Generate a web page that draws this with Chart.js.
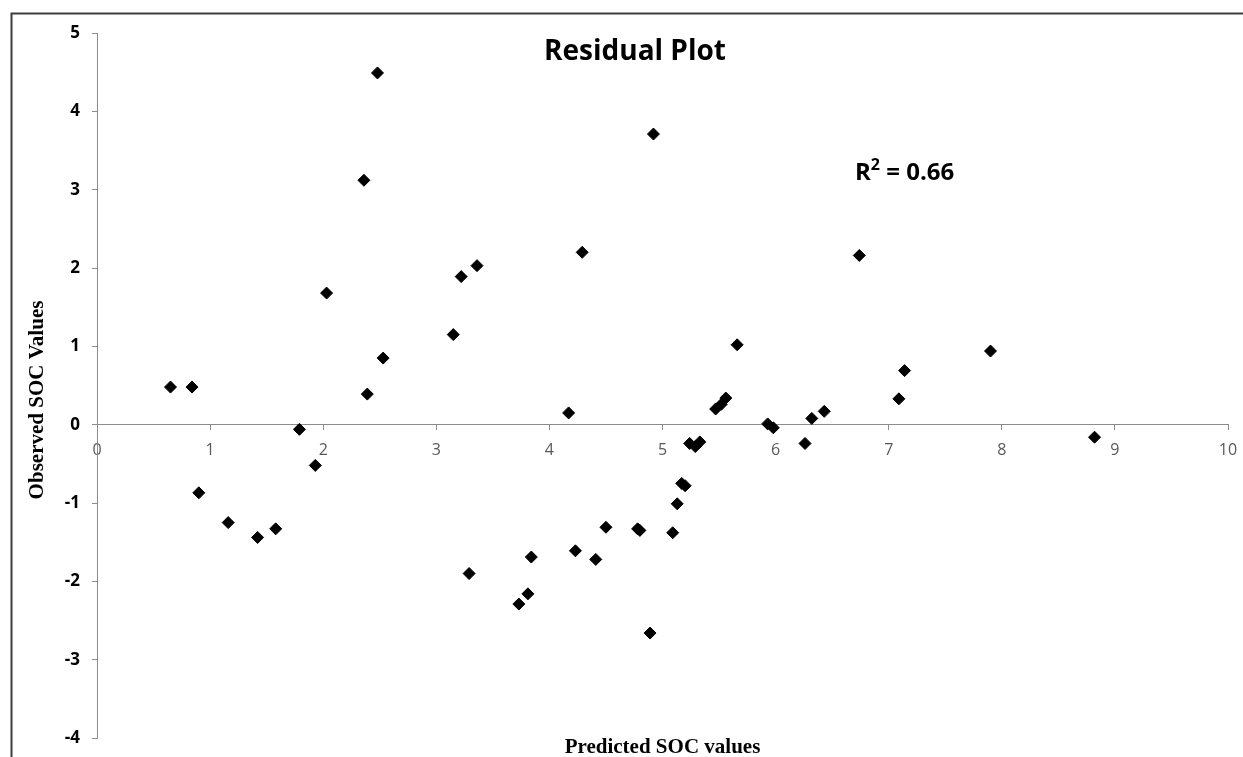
<!DOCTYPE html>
<html>
<head>
<meta charset="utf-8">
<script src="https://cdn.jsdelivr.net/npm/chart.js@4"></script>
<style>
  html, body { margin: 0; padding: 0; background: #ffffff; }
  #wrap { width: 1243px; height: 757px; position: relative; }
</style>
</head>
<body>
<div id="wrap"><canvas id="c" width="1243" height="757"></canvas></div>
<script>
// ---- data ----
const predicted = [0.65, 0.84, 0.90, 1.16, 1.42, 1.58, 1.79, 1.93, 2.03, 2.36,
                   2.39, 2.48, 2.53, 3.15, 3.22, 3.29, 3.36, 3.73, 3.81, 3.84,
                   4.17, 4.23, 4.29, 4.41, 4.50, 4.78, 4.80, 4.89, 4.92, 5.09,
                   5.13, 5.17, 5.20, 5.24, 5.29, 5.33, 5.47, 5.52, 5.56, 5.66,
                   5.93, 5.98, 6.26, 6.32, 6.43, 6.74, 7.09, 7.14, 7.90, 8.82];
const residuals = [0.48, 0.48, -0.87, -1.25, -1.44, -1.33, -0.06, -0.52, 1.68, 3.12,
                   0.39, 4.49, 0.85, 1.15, 1.89, -1.90, 2.03, -2.29, -2.16, -1.69,
                   0.15, -1.61, 2.20, -1.72, -1.31, -1.33, -1.35, -2.66, 3.71, -1.38,
                   -1.01, -0.75, -0.78, -0.24, -0.28, -0.22, 0.20, 0.26, 0.34, 1.02,
                   0.01, -0.04, -0.24, 0.08, 0.17, 2.16, 0.33, 0.69, 0.94, -0.16];
const xTicks = [0, 1, 2, 3, 4, 5, 6, 7, 8, 9, 10];
const yTicks = [-4, -3, -2, -1, 0, 1, 2, 3, 4, 5];
const chartTitle = "Residual Plot";
const xTitle = "Predicted SOC values";
const yTitle = "Observed SOC Values";
const r2Label = ["R", "2", " = 0.66"];

const points = predicted.map((x, i) => ({ x: x, y: residuals[i] }));

const decorPlugin = {
  id: 'decor',
  afterDraw(chart) {
    const ctx = chart.ctx;
    ctx.save();
    // outer chart frame (top and left edges visible)
    ctx.strokeStyle = '#3c3c3c';
    ctx.lineWidth = 2;
    ctx.beginPath();
    ctx.moveTo(1243, 13.5);
    ctx.lineTo(11.5, 13.5);
    ctx.lineTo(11.5, 757);
    ctx.stroke();

    // title
    ctx.fillStyle = '#000000';
    ctx.font = 'bold 28px "Open Sans"';
    ctx.textAlign = 'center';
    ctx.textBaseline = 'alphabetic';
    ctx.fillText(chartTitle, 635, 60);

    // R^2 annotation
    ctx.textAlign = 'left';
    let x = 855;
    ctx.font = 'bold 24px "Open Sans"';
    ctx.fillText(r2Label[0], x, 180);
    x += ctx.measureText(r2Label[0]).width;
    ctx.font = 'bold 16px "Open Sans"';
    ctx.fillText(r2Label[1], x, 169.5);
    x += ctx.measureText(r2Label[1]).width;
    ctx.font = 'bold 24px "Open Sans"';
    ctx.fillText(r2Label[2], x, 180);

    // axis titles
    ctx.font = 'bold 21px "Liberation Serif"';
    ctx.textAlign = 'center';
    ctx.fillText(xTitle, 662.5, 753);
    ctx.translate(43.3, 400);
    ctx.rotate(-Math.PI / 2);
    ctx.fillText(yTitle, 0, 0);
    ctx.restore();
  }
};

new Chart(document.getElementById('c'), {
  type: 'scatter',
  data: {
    datasets: [{
      data: points,
      pointStyle: 'rectRot',
      pointRadius: 6,
      pointHoverRadius: 6,
      backgroundColor: '#000000',
      borderColor: '#000000',
      borderWidth: 1
    }]
  },
  options: {
    responsive: false,
    animation: false,
    layout: { padding: { left: 0, top: 33, right: 15, bottom: 19 } },
    plugins: {
      legend: { display: false },
      title: { display: false },
      tooltip: { enabled: false }
    },
    scales: {
      x: {
        type: 'linear',
        min: xTicks[0],
        max: xTicks[xTicks.length - 1],
        position: { y: 0 },
        afterBuildTicks(scale) { scale.ticks = xTicks.map(v => ({ value: v })); },
        afterFit(scale) { scale.paddingLeft = 0; scale.paddingRight = 0; },
        ticks: {
          color: '#595959',
          font: { family: '"Open Sans"', size: 16 },
          padding: 11,
          maxRotation: 0,
          autoSkip: false
        },
        grid: { drawOnChartArea: false, tickLength: 5, color: '#8c8c8c' },
        border: { display: true, color: '#8c8c8c', width: 1 }
      },
      y: {
        type: 'linear',
        min: yTicks[0],
        max: yTicks[yTicks.length - 1],
        position: 'left',
        afterBuildTicks(scale) { scale.ticks = yTicks.map(v => ({ value: v })); },
        afterFit(scale) { scale.width = 97; scale.paddingTop = 0; scale.paddingBottom = 0; },
        ticks: {
          color: '#000000',
          font: { family: '"Open Sans"', size: 17, weight: 'bold' },
          padding: 12,
          autoSkip: false
        },
        grid: { drawOnChartArea: false, tickLength: 5, color: '#8c8c8c' },
        border: { display: true, color: '#8c8c8c', width: 1 }
      }
    }
  },
  plugins: [decorPlugin]
});
</script>
</body>
</html>
